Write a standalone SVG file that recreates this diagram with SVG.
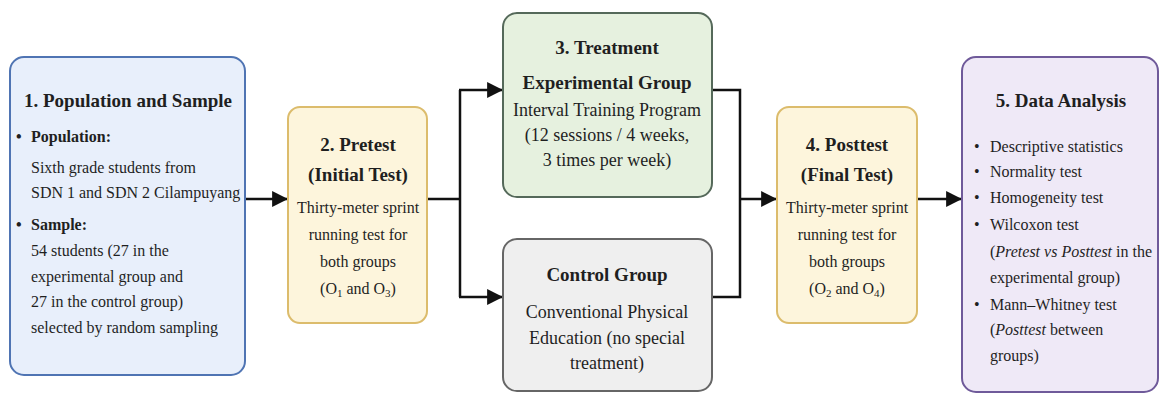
<svg xmlns="http://www.w3.org/2000/svg" width="1161" height="394" viewBox="0 0 1161 394">
<defs>
<style>
text{font-family:"Liberation Serif","Times New Roman",serif;fill:#1f1f1f}
.t{font-weight:bold;font-size:19px;text-anchor:middle}
.b{font-size:16px}
.m{font-size:18px}
.c{text-anchor:middle}
.bb{font-weight:bold}
.it{font-style:italic}
.conn{fill:none;stroke:#111;stroke-width:2.5}
</style>
<marker id="ah" markerUnits="userSpaceOnUse" markerWidth="16" markerHeight="16" viewBox="0 0 14 14" refX="13" refY="7" orient="auto">
<path d="M0,0 L14,7 L0,14 Z" fill="#111"/>
</marker>
</defs>
<rect width="1161" height="394" fill="#ffffff"/>

<g id="connectors">
<path class="conn" d="M245,199 H287" marker-end="url(#ah)"/>
<path class="conn" d="M427,199 H460"/>
<path class="conn" d="M460,90 V297"/>
<path class="conn" d="M459,90 H502" marker-end="url(#ah)"/>
<path class="conn" d="M459,297 H502" marker-end="url(#ah)"/>
<path class="conn" d="M712,90 H740 V297 H712"/>
<path class="conn" d="M740,199 H776" marker-end="url(#ah)"/>
<path class="conn" d="M917,199 H961" marker-end="url(#ah)"/>
</g>

<g id="node1">
<rect x="10" y="57" width="235" height="318" rx="14" fill="#e8effb" stroke="#4f74b3" stroke-width="2"/>
<text class="t" x="128" y="107" font-size="18">1. Population and Sample</text>
<text class="b" x="16" y="142"><tspan class="bb">• </tspan><tspan class="bb" x="31">Population:</tspan></text>
<text class="b" x="31" y="173">Sixth grade students from</text>
<text class="b" x="31" y="198">SDN 1 and SDN 2 Cilampuyang</text>
<text class="b" x="16" y="230"><tspan class="bb">• </tspan><tspan class="bb" x="31">Sample:</tspan></text>
<text class="b" x="31" y="256">54 students (27 in the</text>
<text class="b" x="31" y="282">experimental group and</text>
<text class="b" x="31" y="307">27 in the control group)</text>
<text class="b" x="31" y="333">selected by random sampling</text>
</g>

<g id="node2">
<rect x="288" y="107" width="139" height="216" rx="12" fill="#fdf5dc" stroke="#dcbc6c" stroke-width="2"/>
<text class="t" x="358" y="151">2. Pretest</text>
<text class="t" x="358" y="181" font-size="18">(Initial Test)</text>
<text class="b c" x="358" y="213">Thirty-meter sprint</text>
<text class="b c" x="358" y="240">running test for</text>
<text class="b c" x="358" y="267">both groups</text>
<text class="b c" x="358" y="294">(O<tspan font-size="11" dy="3">1</tspan><tspan dy="-3"> and O</tspan><tspan font-size="11" dy="3">3</tspan><tspan dy="-3">)</tspan></text>
</g>

<g id="node3">
<rect x="503" y="13" width="209" height="184" rx="14" fill="#e6f1df" stroke="#55695a" stroke-width="2"/>
<text class="t" x="607" y="54">3. Treatment</text>
<text class="t" x="607" y="89" font-size="18">Experimental Group</text>
<text class="m c" x="607" y="116">Interval Training Program</text>
<text class="m c" x="607" y="141">(12 sessions / 4 weeks,</text>
<text class="m c" x="607" y="166">3 times per week)</text>
</g>

<g id="node3b">
<rect x="503" y="239" width="209" height="152" rx="14" fill="#efefef" stroke="#666666" stroke-width="2"/>
<text class="t" x="607" y="281">Control Group</text>
<text class="m c" x="607" y="318">Conventional Physical</text>
<text class="m c" x="607" y="344">Education (no special</text>
<text class="m c" x="607" y="369">treatment)</text>
</g>

<g id="node4">
<rect x="777" y="107" width="140" height="216" rx="12" fill="#fdf5dc" stroke="#dcbc6c" stroke-width="2"/>
<text class="t" x="847" y="151">4. Posttest</text>
<text class="t" x="847" y="181" font-size="18">(Final Test)</text>
<text class="b c" x="847" y="213">Thirty-meter sprint</text>
<text class="b c" x="847" y="240">running test for</text>
<text class="b c" x="847" y="267">both groups</text>
<text class="b c" x="847" y="294">(O<tspan font-size="11" dy="3">2</tspan><tspan dy="-3"> and O</tspan><tspan font-size="11" dy="3">4</tspan><tspan dy="-3">)</tspan></text>
</g>

<g id="node5">
<rect x="962" y="57" width="196" height="335" rx="14" fill="#efe9f7" stroke="#6f5a9a" stroke-width="2"/>
<text class="t" x="1061" y="107" font-size="18">5. Data Analysis</text>
<text class="b" x="974" y="152" font-size="17">•</text><text class="b" x="990" y="152" font-size="17">Descriptive statistics</text>
<text class="b" x="974" y="177" font-size="17">•</text><text class="b" x="990" y="177" font-size="17">Normality test</text>
<text class="b" x="974" y="203" font-size="17">•</text><text class="b" x="990" y="203" font-size="17">Homogeneity test</text>
<text class="b" x="974" y="230" font-size="17">•</text><text class="b" x="990" y="230" font-size="17">Wilcoxon test</text>
<text class="b" x="990" y="257" font-size="17">(<tspan class="it">Pretest vs Posttest</tspan> in the</text>
<text class="b" x="990" y="283" font-size="17">experimental group)</text>
<text class="b" x="974" y="310" font-size="17">•</text><text class="b" x="990" y="310" font-size="17">Mann–Whitney test</text>
<text class="b" x="990" y="335" font-size="17">(<tspan class="it">Posttest</tspan> between</text>
<text class="b" x="990" y="361" font-size="17">groups)</text>
</g>
</svg>
